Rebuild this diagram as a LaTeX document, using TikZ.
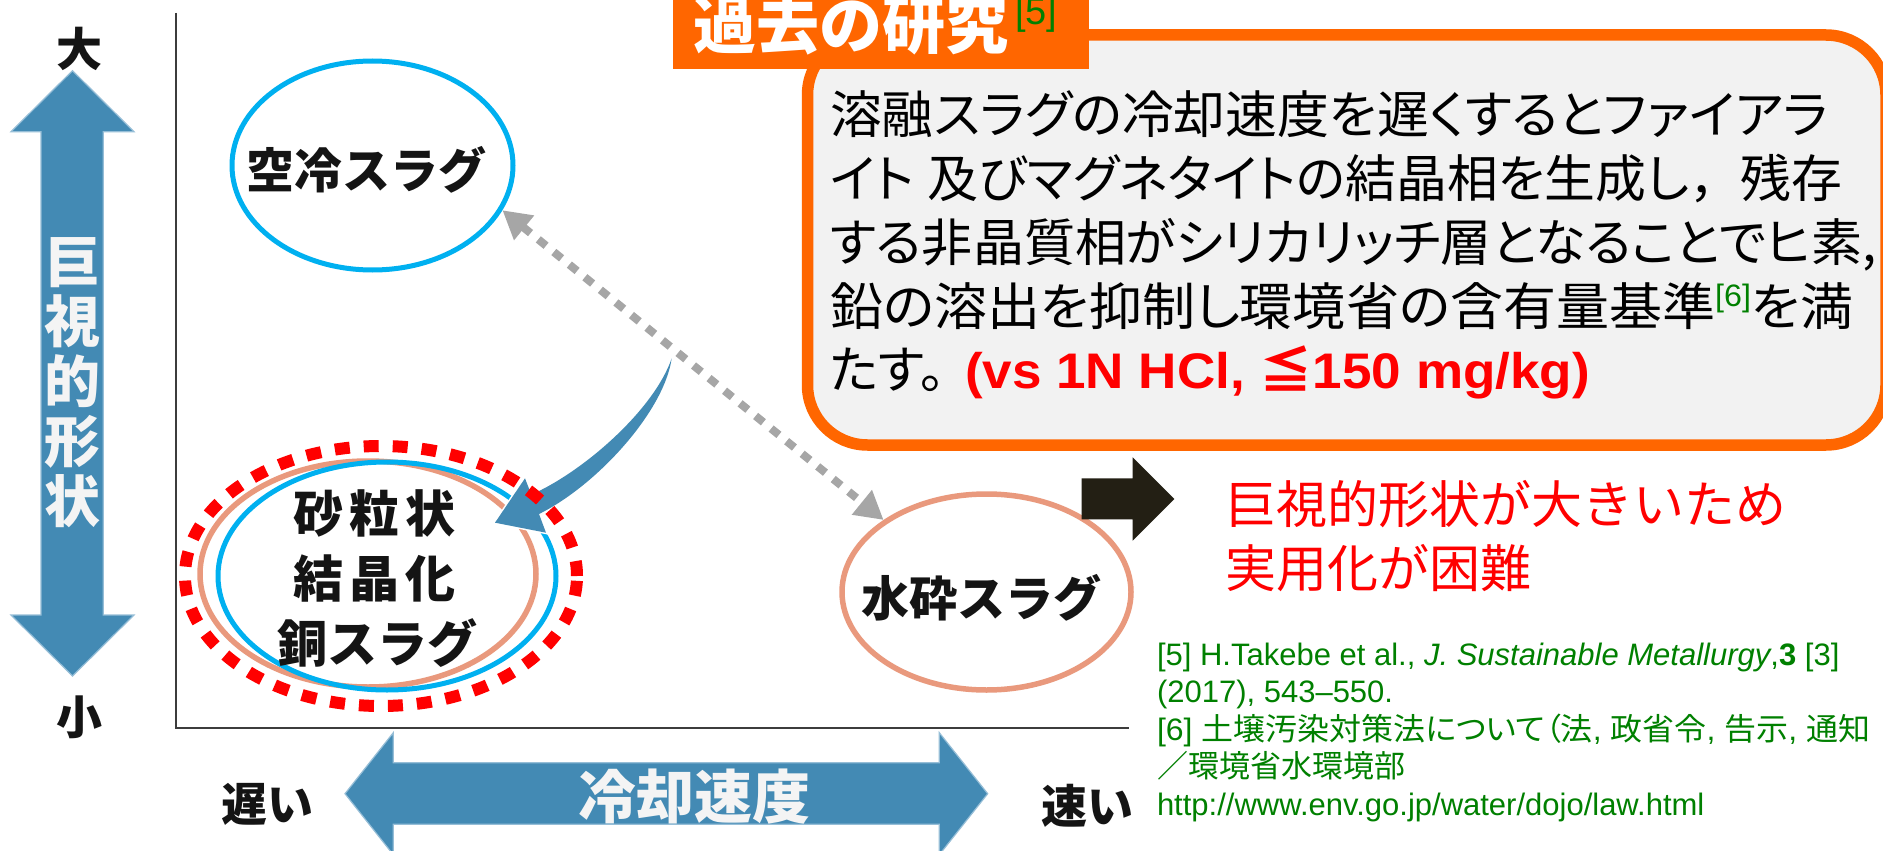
\documentclass[tikz,border=0pt]{standalone}
\usepackage{graphicx}
\usepackage{fontspec}
\setmainfont{Liberation Sans}
\newfontfamily\jp{Noto Sans CJK JP}
\newfontfamily\jpp{Noto Sans CJK JP}[RawFeature=+palt]
\usetikzlibrary{shapes.geometric,arrows.meta}
\newcommand{\setfs}[1]{\fontsize{#1pt}{#1pt}\selectfont}
\newcommand{\fitto}[2]{\resizebox{#1}{\height}{#2}}
\definecolor{arrowblue}{RGB}{67,138,180}
\definecolor{arrowedge}{RGB}{150,190,215}
\definecolor{cyanline}{RGB}{0,176,240}
\definecolor{salmonline}{RGB}{233,153,125}
\definecolor{grayline}{RGB}{166,166,166}
\definecolor{orangeline}{RGB}{255,102,0}
\definecolor{boxgray}{RGB}{242,242,242}
\definecolor{darkarrow}{RGB}{35,31,20}
\definecolor{refgreen}{RGB}{0,128,0}
\definecolor{textwhite}{RGB}{244,244,244}
\definecolor{axisgray}{RGB}{60,60,60}
\definecolor{textblack}{RGB}{20,20,20}
\begin{document}
\begin{tikzpicture}[x=1pt,y=-1pt,
  lbl/.style={inner sep=0pt, outer sep=0pt},
  bigjp/.style={lbl, text=textblack, font=\jp\bfseries\setfs{46}},
  nodejp/.style={lbl, text=textblack, font=\jp\bfseries\setfs{48}},
  bluearrow/.style={fill=arrowblue, draw=arrowedge, line width=1.2pt},
  axisline/.style={draw=axisgray, line width=2.5pt},
  graydot/.style={draw=grayline, line width=8pt, dash pattern=on 10pt off 10pt,
    {Triangle[length=28pt,width=30pt]}-{Triangle[length=28pt,width=30pt]}},
  refs/.style={lbl, anchor=base west, text=refgreen, font=\setfs{31}},
  boxline/.style={lbl, anchor=base west, text=black}]
\useasboundingbox (0,0) rectangle (1883,851);
\fill[white] (0,0) rectangle (1883,851);

% axes
\draw[axisline] (176,13) -- (176,728) -- (1129,728);

% vertical double arrow
\path[bluearrow] (72.5,70.7) -- (134,131.7) -- (103.3,131.7) -- (103.3,615) -- (134,615)
  -- (72.5,676) -- (11,615) -- (41,615) -- (41,131.7) -- (11,131.7) -- cycle;
\node[lbl, text=textwhite, align=center, font=\jp\bfseries\fontsize{56pt}{60pt}\selectfont]
  (vtitle) at (72.3,382.6) {巨\\視\\的\\形\\状};
\node[bigjp] (dai) at (79.5,49) {大};
\node[bigjp] (sho) at (79,717) {小};

% horizontal double arrow
\path[bluearrow] (345,793.7) -- (393.3,732.7) -- (393.3,762.7) -- (939.3,762.7) -- (939.3,732.7)
  -- (987.7,793.7) -- (939.3,854.7) -- (939.3,824.3) -- (393.3,824.3) -- (393.3,854.7) -- cycle;
\node[lbl, text=textwhite, font=\jp\bfseries\setfs{58}] (htitle) at (694,796.5) {冷却速度};
\node[bigjp] (osoi) at (267,804) {遅い};
\node[bigjp] (hayai) at (1087,806) {速い};

% air-cooled slag
\node[ellipse, draw=cyanline, line width=5pt, minimum width=281pt, minimum height=209pt, inner sep=0pt]
  (kuurei) at (372.5,165.5) {};
\node[nodejp] (kuureitxt) at (366,170) {空冷スラグ};

% granulated slag
\node[ellipse, draw=salmonline, line width=5.5pt, minimum width=289pt, minimum height=196pt, inner sep=0pt]
  (suisai) at (986.5,592) {};
\node[nodejp] (suisaitxt) at (981,598) {水砕スラグ};

% sand-like slag
\draw[salmonline, line width=5.5pt] (368,574) ellipse [x radius=168pt, y radius=113pt];
\draw[cyanline, line width=5pt] (387,576) ellipse [x radius=169pt, y radius=114pt];
\path[fill=arrowblue, draw=white, line width=3pt, line join=miter]
  (671.7,358.3) .. controls (664,412) and (596,486) .. (539,514)
  -- (546,532.7) -- (495,522.7) -- (525,478.3) -- (531.3,494.6)
  .. controls (583,472) and (654,410) .. (671.7,358.3) -- cycle;
\fill[arrowblue] (671.7,358.3) .. controls (664,412) and (596,486) .. (539,514)
  -- (546,532.7) -- (495,522.7) -- (525,478.3) -- (531.3,494.6)
  .. controls (583,472) and (654,410) .. (671.7,358.3) -- cycle;
\draw[red, line width=12pt, dash pattern=on 15pt off 14pt] (381,576) ellipse [x radius=196pt, y radius=130pt];
\node[nodejp, font=\jp\bfseries\setfs{50}] (sa1) at (374.7,513) {砂\kern6pt 粒\kern6pt 状};
\node[nodejp, font=\jp\bfseries\setfs{50}] (sa2) at (374.7,578) {結\kern6pt 晶\kern6pt 化};
\node[nodejp, font=\jp\bfseries\setfs{50}] (sa3) at (377,643) {銅スラグ};

% gray dotted double arrow
\draw[graydot] (kuurei.-19) -- (suisai.145);

% black block arrow
\fill[darkarrow] (1081.7,478.3) -- (1132.7,478.3) -- (1132.7,457.3) -- (1174.3,499)
  -- (1132.7,540.7) -- (1132.7,519.3) -- (1081.7,519.3) -- cycle;

% past research box
\draw[orangeline, fill=boxgray, line width=11.5pt, rounded corners=60pt] (807.5,35) rectangle (1886,445);
\fill[orangeline] (672.7,-5) rectangle (1089.3,69);
\node[lbl, anchor=base west, text=white, font=\jp\bfseries\setfs{63}] (tab) at (693,49) {過去の研究};
\node[lbl, anchor=base west, text=refgreen, font=\setfs{38}] (tabref) at (1015,25) {[5]};

\node[boxline] (l1) at (830,133.5) {\fitto{998pt}{\jpp\setfs{51}溶融スラグの冷却速度を遅くするとファイアラ}};
\node[boxline] (l2) at (830,197) {\fitto{1012pt}{\jpp\setfs{51}イト\hspace{14pt}及びマグネタイトの結晶相を生成し{\jp ，}残存}};
\node[boxline] (l3) at (830,261.5) {\fitto{1047pt}{\jpp\setfs{51}する非晶質相がシリカリッチ層となることでヒ素,}};
\node[boxline] (l4) at (830,325.5) {\fitto{1023pt}{\jpp\setfs{51}鉛の溶出を抑制し環境省の含有量基準\raisebox{19pt}{\rmfamily\setfs{31}\color{refgreen}[6]}を満}};
\node[boxline] (l5) at (830,388) {\jpp\setfs{51}たす。};
\node[boxline] (l5r) at (965,388) {\fitto{625pt}{\bfseries\setfs{50}\color{red}(vs 1N HCl, {\jp ≦}150 mg/kg)}};

% conclusion text
\node[lbl, anchor=base west, text=red, font=\jp\setfs{51}] (concl1) at (1225,523) {巨視的形状が大きいため};
\node[lbl, anchor=base west, text=red, font=\jp\setfs{51}] (concl2) at (1225,587) {実用化が困難};

% references
\node[refs] (r1) at (1157,665) {[5] H.Takebe et al., \textit{J. Sustainable Metallurgy},\textbf{3} [3]};
\node[refs] (r2) at (1157,702.5) {(2017), 543–550.};
\node[refs] (r3) at (1157,740) {\fitto{713pt}{[6] {\jpp 土壌汚染対策法について（法}, {\jp 政省令}, {\jp 告示}, {\jp 通知}}};
\node[refs] (r4) at (1157,777.5) {{\jp ／環境省水環境部}};
\node[refs] (r5) at (1157,815) {http://www.env.go.jp/water/dojo/law.html};
\end{tikzpicture}
\end{document}
